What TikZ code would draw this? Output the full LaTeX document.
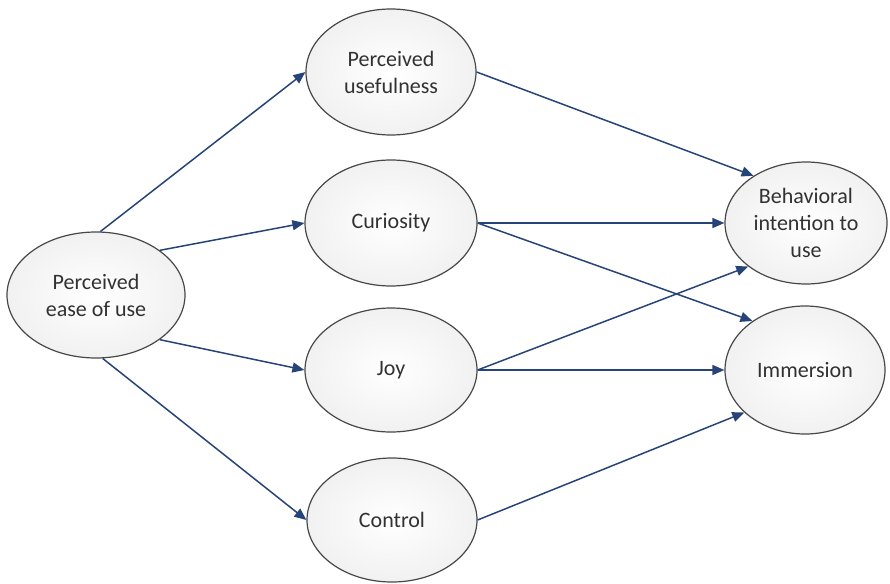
\documentclass[tikz,border=0pt]{standalone}
\usepackage{fontspec}
\setmainfont{Carlito}
\usetikzlibrary{shapes.geometric}
\usetikzlibrary{arrows.meta}
\definecolor{linkblue}{RGB}{38,68,120}
\definecolor{rim}{RGB}{72,72,72}
\definecolor{ink}{RGB}{50,50,50}
\tikzset{>=stealth}
\tikzset{
	% construct bubbles
	construct/.style={ellipse,draw=rim,line width=1.2pt,inner sep=0pt,
		inner color=white,outer color=gray!11,
		align=center,text=ink,font=\fontsize{22}{27}\selectfont},
	% paths between constructs
	link/.style={draw=linkblue,line width=1.5pt,-{Triangle[length=12pt,width=10pt]}},
}

\begin{document}
\begin{tikzpicture}[x=1pt,y=-1pt]
\useasboundingbox (0,0) rectangle (890,583);
% the constructs
\node[construct,minimum width=178,minimum height=126] (peou) at (96,295) {Perceived\\ease of use};
\node[construct,minimum width=170,minimum height=126] (pu) at (391,72) {Perceived\\usefulness};
\node[construct,minimum width=172,minimum height=126] (cur) at (391,223) {Curiosity};
\node[construct,minimum width=172,minimum height=124] (joy) at (391,370) {Joy};
\node[construct,minimum width=170,minimum height=124] (ctrl) at (392,520) {Control};
\node[construct,minimum width=162,minimum height=122] (bi) at (806,223) {Behavioral\\intention to\\use};
\node[construct,minimum width=160,minimum height=128] (imm) at (805,370) {Immersion};
% the paths
\foreach \a/\b in {peou.86/pu.west, peou.35/cur.west, peou.-35/joy.west, peou.-84/ctrl.west,
	pu.east/bi.138, cur.east/bi.west, cur.east/imm.137,
	joy.east/bi.217, joy.east/imm.west, ctrl.east/imm.215}
  \draw[link] (\a) -- (\b);
\end{tikzpicture}
\end{document}
